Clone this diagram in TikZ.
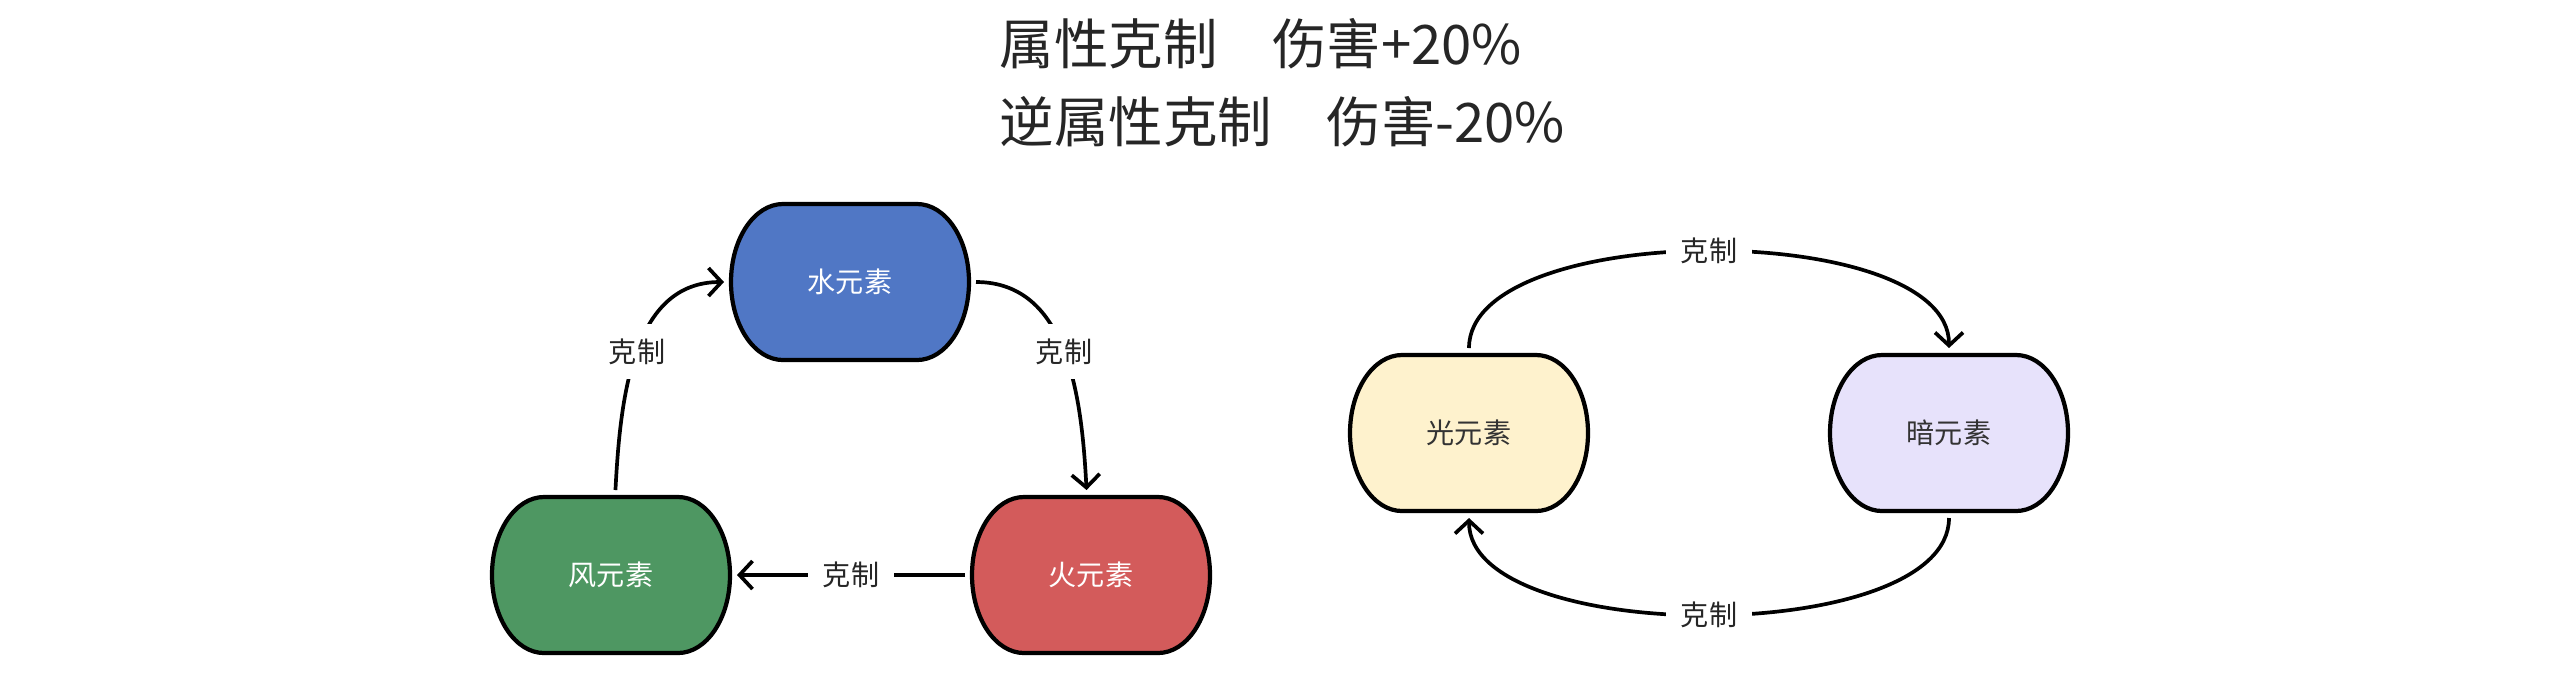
\documentclass[tikz,border=0pt]{standalone}
\usepackage{fontspec}
\setmainfont{Noto Sans CJK SC}
\usetikzlibrary{arrows.meta,backgrounds}
\definecolor{waterblue}{HTML}{5077C5}
\definecolor{windgreen}{HTML}{4E9762}
\definecolor{firered}{HTML}{D35B5B}
\definecolor{lightyellow}{HTML}{FEF2CD}
\definecolor{darklilac}{HTML}{E7E2FB}
\begin{document}
\begin{tikzpicture}[
		elem/.style={minimum width=2.38cm,minimum height=1.56cm,inner sep=0pt,outer sep=0.07cm,font=\fontsize{8}{10}\selectfont},
		elemline/.style={draw=black,line width=1.2pt},
		lbl/.style={fill=white,inner sep=4.2pt,font=\fontsize{8}{10}\selectfont,text=black!85},
		conn/.style={line width=1.05pt,-{Straight Barb[length=1.3mm,width=2.8mm]}},
		heading/.style={anchor=base west,inner sep=0pt,font=\fontsize{15.5}{18}\selectfont,text=black!85}]
	\useasboundingbox (0,0) rectangle (25.6,-6.8);
	\node[heading] (head1) at (9.99,-0.645) {属性克制\hspace{1em}伤害+20\%};
	\node[heading] (head2) at (9.99,-1.425) {逆属性克制\hspace{1em}伤害-20\%};
	\node[elem,text=white] (water) at (8.50,-2.82) {水元素};
	\node[elem,text=white] (wind) at (6.11,-5.75) {风元素};
	\node[elem,text=white] (fire) at (10.91,-5.75) {火元素};
	\node[elem,text=black!80] (light) at (14.69,-4.33) {光元素};
	\node[elem,text=black!80] (dark) at (19.49,-4.33) {暗元素};
	\draw[conn] (wind) to[out=87,in=180] node[lbl]{克制} (water);
	\draw[conn] (water) to[out=0,in=93] node[lbl]{克制} (fire);
	\draw[conn] (fire) -- node[lbl]{克制} (wind);
	\draw[conn] (light) to[out=90,in=90,looseness=.69] node[lbl]{克制} (dark);
	\draw[conn] (dark) to[out=-90,in=-90,looseness=.69] node[lbl]{克制} (light);
	\begin{pgfonlayer}{background}
		\fill[white] (0,0) rectangle (25.6,-6.8);
		\foreach \n/\c in {water/waterblue,wind/windgreen,fire/firered,light/lightyellow,dark/darklilac}
			\draw[elemline,fill=\c] ([shift={(-0.67,0.78)}]\n.center) -- ++(1.34,0)
				arc[start angle=90,end angle=-90,x radius=0.52,y radius=0.78] -- ++(-1.34,0)
				arc[start angle=270,end angle=90,x radius=0.52,y radius=0.78] -- cycle;
	\end{pgfonlayer}
\end{tikzpicture}
\end{document}
